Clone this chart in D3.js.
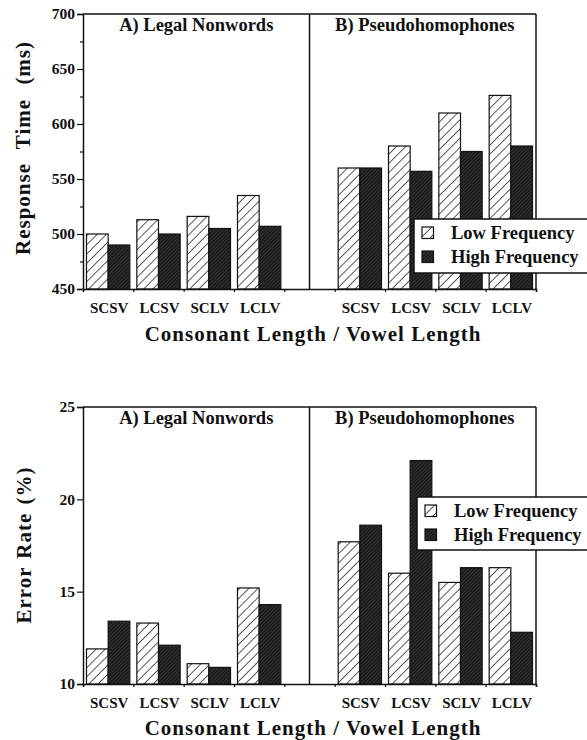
<!DOCTYPE html>
<html>
<head>
<meta charset="utf-8">
<script src="https://cdn.jsdelivr.net/npm/d3@7"></script>
<style>
  body { margin: 0; background: #fff; }
  text { font-family: "Liberation Serif", "Times New Roman", serif; font-weight: bold; fill: #111; }
</style>
</head>
<body>
<div id="chart"></div>
<script>
// data
const categories = ['SCSV', 'LCSV', 'SCLV', 'LCLV']
const panelTitles = ['A) Legal Nonwords', 'B) Pseudohomophones']
const seriesNames = ['Low Frequency', 'High Frequency']

const rtLowNonwords = [500, 513, 516, 535]
const rtHighNonwords = [490, 500, 505, 507]
const rtLowPseudo = [560, 580, 610, 626]
const rtHighPseudo = [560, 557, 575, 580]
const rtTicks = [450, 500, 550, 600, 650, 700]
const rtMinorTicks = [475, 525, 575, 625, 675]

const errLowNonwords = [11.9, 13.3, 11.1, 15.2]
const errHighNonwords = [13.4, 12.1, 10.9, 14.3]
const errLowPseudo = [17.7, 16.0, 15.5, 16.3]
const errHighPseudo = [18.6, 22.1, 16.3, 12.8]
const errTicks = [10, 15, 20, 25]
const errMinorTicks = []

const W = 587, H = 740
const xLeft = 83, xRight = 536

const svg = d3.select('#chart').append('svg')
   .attr('width', W).attr('height', H)
   .style('display', 'block')

svg.append('rect').attr('width', W).attr('height', H).attr('fill', '#fff')

// hatch patterns
const defs = svg.append('defs')
const pLow = defs.append('pattern')
   .attr('id', 'hatchLow').attr('patternUnits', 'userSpaceOnUse')
   .attr('width', 6.5).attr('height', 6.5).attr('patternTransform', 'rotate(45)')
pLow.append('rect').attr('width', 6.5).attr('height', 6.5).attr('fill', '#fff')
pLow.append('line').attr('x1', 0).attr('y1', 0).attr('x2', 0).attr('y2', 6.5)
   .attr('stroke', '#111').attr('stroke-width', 1.4)

const pHigh = defs.append('pattern')
   .attr('id', 'hatchHigh').attr('patternUnits', 'userSpaceOnUse')
   .attr('width', 2.6).attr('height', 2.6).attr('patternTransform', 'rotate(45)')
pHigh.append('rect').attr('width', 2.6).attr('height', 2.6).attr('fill', '#1b1b1b')
pHigh.append('line').attr('x1', 0).attr('y1', 0).attr('x2', 0).attr('y2', 2.6)
   .attr('stroke', '#5e5e5e').attr('stroke-width', 0.7)

const fills = { 'Low Frequency': 'url(#hatchLow)', 'High Frequency': 'url(#hatchHigh)' }

// 9 slots: 4 nonword groups, an empty gap, 4 pseudohomophone groups
const slots = [...categories.map(c => 'A-' + c), 'gap', ...categories.map(c => 'B-' + c)]
const x = d3.scaleBand().domain(slots).range([xLeft, xRight]).padding(0)
const xEdge = d3.scaleLinear().domain([0, slots.length]).range([xLeft, xRight])
const xSub = d3.scaleBand().domain(seriesNames).range([3.5, x.bandwidth() - 3.5]).padding(0)
const divX = (x('gap') + x.bandwidth() / 2)

function drawChart(cfg) {
   const g = svg.append('g')
   const y = d3.scaleLinear().domain(cfg.domain).range([cfg.yBottom, cfg.yTop])

   const rows = []
   categories.forEach((c, i) => {
      rows.push({ slot: 'A-' + c, s: seriesNames[0], v: cfg.lowA[i] })
      rows.push({ slot: 'A-' + c, s: seriesNames[1], v: cfg.highA[i] })
      rows.push({ slot: 'B-' + c, s: seriesNames[0], v: cfg.lowB[i] })
      rows.push({ slot: 'B-' + c, s: seriesNames[1], v: cfg.highB[i] })
   })

   g.selectAll('rect.bar')
      .data(rows)
      .enter()
      .append('rect')
      .attr('class', 'bar')
      .attr('x', d => x(d.slot) + xSub(d.s))
      .attr('width', xSub.bandwidth())
      .attr('y', d => y(d.v))
      .attr('height', d => y(cfg.domain[0]) - y(d.v))
      .attr('fill', d => fills[d.s])
      .attr('stroke', '#111')
      .attr('stroke-width', 1.2)

   // frame: top, right, divider
   const frame = g.append('g').attr('stroke', '#111').attr('stroke-width', 1.5).attr('fill', 'none')
   frame.append('line').attr('x1', xLeft).attr('x2', xRight).attr('y1', cfg.yTop).attr('y2', cfg.yTop)
   frame.append('line').attr('x1', xRight).attr('x2', xRight).attr('y1', cfg.yTop).attr('y2', cfg.yBottom)
   frame.append('line').attr('x1', divX).attr('x2', divX).attr('y1', cfg.yTop).attr('y2', cfg.yBottom)

   // y axis
   const yAxis = g.append('g')
      .attr('transform', `translate(${xLeft},0)`)
      .call(d3.axisLeft(y).tickValues(cfg.ticks).tickSize(6).tickPadding(2).tickFormat(d3.format('d')))
   yAxis.select('.domain').attr('stroke', '#111').attr('stroke-width', 1.5)
   yAxis.selectAll('.tick line').attr('stroke', '#111').attr('stroke-width', 1.2)
   yAxis.selectAll('.tick text')
      .style('font-family', '"Liberation Serif", serif').style('font-weight', 'bold')
      .style('font-size', '15.5px').attr('fill', '#111')
   if (cfg.minor.length) {
      g.append('g')
         .attr('transform', `translate(${xLeft},0)`)
         .call(d3.axisLeft(y).tickValues(cfg.minor).tickSize(3).tickFormat(''))
         .call(a => a.select('.domain').remove())
         .selectAll('.tick line').attr('stroke', '#111').attr('stroke-width', 1.2)
   }

   // x axis with ticks at slot edges
   const xAxis = g.append('g')
      .attr('transform', `translate(0,${cfg.yBottom})`)
      .call(d3.axisBottom(xEdge).tickValues(d3.range(slots.length + 1)).tickSize(3).tickFormat(''))
   xAxis.select('.domain').attr('stroke', '#111').attr('stroke-width', 1.5)
   xAxis.selectAll('.tick line').attr('stroke', '#111').attr('stroke-width', 1.2)

   g.selectAll('text.cat')
      .data(slots.filter(s => s !== 'gap'))
      .enter()
      .append('text')
      .attr('class', 'cat')
      .attr('x', d => x(d) + x.bandwidth() / 2 + 1)
      .attr('y', cfg.catY)
      .attr('text-anchor', 'middle')
      .style('font-size', '15px')
      .text(d => d.slice(2))

   // panel titles
   const panelCenters = [(xLeft + divX) / 2, (divX + xRight) / 2 + 2]
   g.selectAll('text.panel')
      .data(panelTitles)
      .enter()
      .append('text')
      .attr('class', 'panel')
      .attr('x', (d, i) => panelCenters[i])
      .attr('y', cfg.yTop + 17)
      .attr('text-anchor', 'middle')
      .style('font-size', '18.5px')
      .text(d => d)

   // axis titles
   g.append('text')
      .attr('x', 313).attr('y', cfg.titleY)
      .attr('text-anchor', 'middle')
      .style('font-size', '21px').style('letter-spacing', '1px')
      .text('Consonant Length / Vowel Length')

   g.append('text')
      .attr('transform', `translate(${cfg.yLabelX},${cfg.yLabelY}) rotate(-90)`)
      .attr('text-anchor', 'middle')
      .style('font-size', '21px').style('letter-spacing', '1px').style('word-spacing', cfg.wordSpacing)
      .text(cfg.yLabel)

   // legend
   const lg = g.append('g').attr('transform', `translate(${cfg.legendX},${cfg.legendY})`)
   lg.append('rect')
      .attr('width', 200).attr('height', cfg.legendH)
      .attr('fill', '#fff').attr('stroke', '#111').attr('stroke-width', 1.5)
   const items = lg.selectAll('g.item')
      .data(seriesNames)
      .enter()
      .append('g')
      .attr('class', 'item')
      .attr('transform', (d, i) => `translate(8,${8 + i * 24})`)
   items.append('rect')
      .attr('width', 11.5).attr('height', 11.5)
      .attr('fill', d => fills[d]).attr('stroke', '#111').attr('stroke-width', 1.2)
   items.append('text')
      .attr('x', 29).attr('y', 12)
      .style('font-size', '18.5px')
      .text(d => d)
}

drawChart({
   domain: [450, 700], yTop: 14, yBottom: 289,
   ticks: rtTicks, minor: rtMinorTicks,
   lowA: rtLowNonwords, highA: rtHighNonwords, lowB: rtLowPseudo, highB: rtHighPseudo,
   catY: 313, titleY: 341,
   yLabel: 'Response Time (ms)', yLabelX: 30, yLabelY: 148, wordSpacing: '8px',
   legendX: 414, legendY: 219, legendH: 54
})

drawChart({
   domain: [10, 25], yTop: 407, yBottom: 684,
   ticks: errTicks, minor: errMinorTicks,
   lowA: errLowNonwords, highA: errHighNonwords, lowB: errLowPseudo, highB: errHighPseudo,
   catY: 707.5, titleY: 735,
   yLabel: 'Error Rate (%)', yLabelX: 31, yLabelY: 545, wordSpacing: '2px',
   legendX: 417, legendY: 497, legendH: 53
})
</script>
</body>
</html>
